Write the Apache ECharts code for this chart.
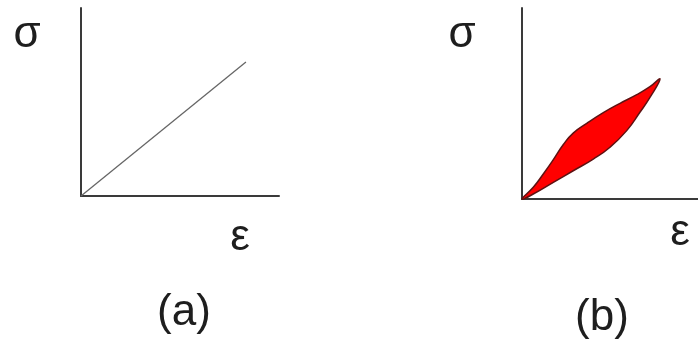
<!DOCTYPE html>
<html>
<head>
<meta charset="utf-8">
<script src="https://cdn.jsdelivr.net/npm/echarts@6/dist/echarts.min.js"></script>
<style>
  html, body { margin: 0; padding: 0; background: #fff; }
  #chart { width: 698px; height: 342px; }
</style>
</head>
<body>
<div id="chart"></div>
<script>
// (a) linear elastic response: stress proportional to strain
const elasticStrain = [0, 83.3];
const elasticStress = [0, 71.3];

// (b) hysteresis loop: loading (upper) and unloading (lower) branches
const loadingStrain = [0, 6.4, 12.1, 17.8, 23.5, 29.1, 36.8, 46.2, 55.7, 65.2, 72.7, 78.4];
const loadingStress = [0, 6.1, 13.1, 20.6, 28.5, 34.5, 39.6, 45.2, 50.1, 54.6, 58.8, 62.8];
const unloadingStrain = [78.4, 72.7, 67.0, 59.5, 50.0, 40.5, 29.1, 17.8, 6.4, 0];
const unloadingStress = [62.8, 53.2, 45.4, 35.8, 27.1, 20.9, 14.8, 8.7, 2.6, 0];

// panel captions
const stressSymbol = 'σ';
const strainSymbol = 'ε';
const panelTags = ['(a)', '(b)'];

const chart = echarts.init(document.getElementById('chart'), null, { renderer: 'canvas' });

const axisColor = '#3a3a3a';
function valueAxis(gridIndex) {
  return {
    type: 'value', gridIndex, min: 0, max: 100,
    axisLine: { show: true, onZero: false, lineStyle: { color: axisColor, width: 2 } },
    axisTick: { show: false }, axisLabel: { show: false }, splitLine: { show: false }
  };
}

// closed outline: up the loading branch, back down the unloading branch
const loopPoints = loadingStrain.map((x, i) => [x, loadingStress[i]])
  .concat(unloadingStrain.slice(1, -1).map((x, i) => [x, unloadingStress[i + 1]]));

const font = '"Liberation Sans", Arial, sans-serif';
function caption(text, x, y) {
  return {
    type: 'text', x, y,
    style: { text, fill: '#1e1e1e', font: '44px ' + font, textAlign: 'center', textVerticalAlign: 'middle' }
  };
}

chart.setOption({
  backgroundColor: '#fff',
  animation: false,
  grid: [
    { left: 81, top: 8, width: 198, height: 188 },
    { left: 522, top: 8, width: 176, height: 191 }
  ],
  xAxis: [valueAxis(0), valueAxis(1)],
  yAxis: [valueAxis(0), valueAxis(1)],
  series: [
    {
      type: 'line', xAxisIndex: 0, yAxisIndex: 0, symbol: 'none',
      data: elasticStrain.map((x, i) => [x, elasticStress[i]]),
      lineStyle: { color: '#666', width: 1.3 }
    },
    {
      type: 'custom', xAxisIndex: 1, yAxisIndex: 1,
      data: [0],
      renderItem: function (params, api) {
        const pts = loopPoints.map(p => api.coord(p));
        return {
          type: 'polygon',
          shape: { points: pts, smooth: 0.5 },
          style: { fill: '#ff0000', stroke: '#5e1212', lineWidth: 1.5, lineJoin: 'round' }
        };
      }
    }
  ],
  graphic: [
    caption(stressSymbol, 27, 35),
    caption(strainSymbol, 240, 238),
    caption(panelTags[0], 184, 313),
    caption(stressSymbol, 462, 35),
    caption(strainSymbol, 680, 233),
    caption(panelTags[1], 602, 318)
  ]
});
</script>
</body>
</html>
